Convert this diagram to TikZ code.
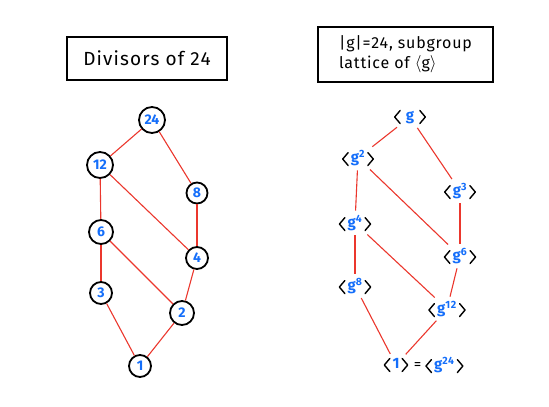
\documentclass[tikz,border=0pt]{standalone}
\usepackage{fontspec}
\setmainfont{Fira Sans}
\definecolor{nblue}{RGB}{20,110,250}
\definecolor{ered}{RGB}{235,55,45}
\newcommand{\lgl}{\tikz[baseline={(0,-3.2pt)},x=1pt,y=1pt]\draw[black,line width=1.4pt,line join=round,line cap=round] (5.5pt,6.5pt)--(0,0)--(5.5pt,-6.5pt);\kern2pt}
\newcommand{\rgl}{\kern2pt\tikz[baseline={(0,-3.2pt)},x=1pt,y=1pt]\draw[black,line width=1.4pt,line join=round,line cap=round] (0,6.5pt)--(5.5pt,0)--(0,-6.5pt);}
\newcommand{\tlgl}{$\langle$}
\newcommand{\trgl}{$\rangle$}
\begin{document}
\begin{tikzpicture}[x=1pt,y=-1pt,
 num/.style={circle,draw=black,line width=1.8pt,text=nblue,inner sep=1pt,minimum size=26pt,font=\fontsize{14}{16}\selectfont\bfseries},
 grp/.style={inner sep=1pt,font=\fontsize{15}{17}\selectfont\addfontfeature{LetterSpace=6}},
 edge/.style={draw=ered,line width=1.1pt},
 gedge/.style={edge,shorten <=3pt,shorten >=3pt},
 titlebox/.style={draw=black,line width=1.4pt,inner sep=6pt,align=left}]
\useasboundingbox (0,0) rectangle (549,407);
% titles
\node[titlebox,minimum width=160pt,minimum height=43pt,font=\fontsize{19}{22}\selectfont\addfontfeature{LetterSpace=6}] (t1) at (147,58.5) {Divisors of 24};
\node[titlebox,minimum width=175pt,minimum height=55pt,font=\fontsize{16}{20}\selectfont\addfontfeature{LetterSpace=5}] (t2) at (405.5,54.5) {|g|=24, subgroup\\lattice of \tlgl g\trgl};
% left lattice
\node[num] (d24) at (152,120) {24};
\node[num] (d12) at (100,165) {12};
\node[num,minimum size=21pt] (d8) at (197,193) {8};
\node[num,minimum size=24pt] (d6) at (101,232) {6};
\node[num,minimum size=22pt] (d4) at (197,258) {4};
\node[num,minimum size=22pt] (d3) at (101,293) {3};
\node[num,minimum size=24pt] (d2) at (182,313) {2};
\node[num,minimum size=22pt] (d1) at (140,366) {1};
\draw[edge] (d24) -- (d12);
\draw[edge] (d24) -- (d8);
\draw[edge] (d12) -- (d6);
\draw[edge] (d12) -- (d4);
\draw[edge] (d8) -- (d4);
\draw[edge] (d6) -- (d3);
\draw[edge] (d6) -- (d2);
\draw[edge] (d4) -- (d2);
\draw[edge] (d3) -- (d1);
\draw[edge] (d2) -- (d1);
% right lattice
\node[grp] (g1) at (410,117) {\lgl\kern3pt\textcolor{nblue}{\bfseries g}\kern3pt\rgl};
\node[grp] (g2) at (358,158) {\lgl\textcolor{nblue}{\bfseries g\textsuperscript{2}}\rgl};
\node[grp] (g3) at (460,191) {\lgl\textcolor{nblue}{\bfseries g\textsuperscript{3}}\rgl};
\node[grp] (g4) at (355,223) {\lgl\textcolor{nblue}{\bfseries g\textsuperscript{4}}\rgl};
\node[grp] (g6) at (460,256) {\lgl\textcolor{nblue}{\bfseries g\textsuperscript{6}}\rgl};
\node[grp] (g8) at (355,286) {\lgl\textcolor{nblue}{\bfseries g\textsuperscript{8}}\rgl};
\node[grp] (g12) at (447,309) {\lgl\textcolor{nblue}{\bfseries g\textsuperscript{12}}\rgl};
\node[grp] (g24) at (396,365) {\lgl\textcolor{nblue}{\bfseries 1}\rgl};
\node[grp,anchor=west] (g24b) at (g24.east) {\kern3pt=\kern4pt\lgl\textcolor{nblue}{\bfseries g\textsuperscript{24}}\rgl};
\draw[gedge] (g1) -- (g2);
\draw[gedge] (g1) -- (g3);
\draw[gedge] (g2) -- (g4);
\draw[gedge] (g2) -- (g6);
\draw[gedge] (g3) -- (g6);
\draw[gedge] (g4) -- (g8);
\draw[gedge] (g4) -- (g12);
\draw[gedge] (g6) -- (g12);
\draw[gedge] (g8) -- (g24);
\draw[gedge] (g12) -- (g24);
\end{tikzpicture}
\end{document}
